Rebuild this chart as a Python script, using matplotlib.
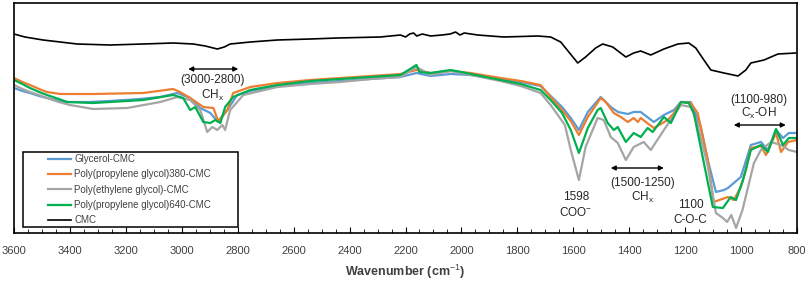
import matplotlib.pyplot as plt
from matplotlib.patches import Rectangle
from matplotlib.ticker import MultipleLocator

plt.rcParams['font.family'] = ['Liberation Sans', 'DejaVu Sans']
plt.rcParams['mathtext.fontset'] = 'custom'
plt.rcParams['mathtext.rm'] = 'Liberation Sans'
plt.rcParams['mathtext.bf'] = 'Liberation Sans:bold'

# transmittance, arbitrary units
cmc_wn = [3600, 3561, 3496, 3435, 3374, 3256, 3138, 3031, 2959, 2916, 2873, 2848, 2827, 2755, 2658,
          2540, 2443, 2290, 2218, 2200, 2185, 2171, 2160, 2140, 2110, 2070, 2040, 2021, 2005, 1990,
          1942, 1849, 1727, 1681, 1645, 1616, 1584, 1556, 1520, 1495, 1459, 1412, 1384, 1359, 1323,
          1276, 1226, 1187, 1162, 1133, 1108, 1061, 1011, 983, 965, 918, 868, 804]
cmc = [199, 196, 193, 191, 189, 188, 189, 190, 189, 187, 184, 186, 189, 191, 193,
       194, 195, 196, 198, 196, 199, 200, 197, 199, 197, 198, 199, 201, 198, 200,
       198, 196, 197, 196, 191, 181, 170, 176, 185, 189, 186, 176, 180, 182, 178,
       184, 189, 190, 185, 173, 163, 160, 157, 163, 170, 173, 179, 180]

gly_wn = [3600, 3570, 3543, 3510, 3482, 3440, 3410, 3330, 3256, 3150, 3077, 3016, 2970, 2934, 2898,
          2870, 2837, 2802, 2755, 2658, 2540, 2433, 2325, 2218, 2161, 2110, 2039, 1967, 1860, 1788,
          1717, 1681, 1640, 1609, 1580, 1548, 1502, 1466, 1440, 1405, 1384, 1359, 1312, 1276, 1240,
          1215, 1180, 1144, 1119, 1090, 1061, 1047, 1001, 965, 929, 904, 875, 850, 829, 800]
gly = [145, 142, 140, 137, 135, 132, 131, 131, 132, 134, 136, 140, 135, 125, 120,
       111, 123, 138, 142, 147, 150, 152, 154, 156, 160, 157, 159, 158, 154, 151,
       147, 137, 126, 115, 103, 121, 136, 126, 121, 119, 121, 121, 111, 118, 123,
       131, 131, 106, 73, 41, 43, 45, 56, 88, 91, 83, 103, 95, 100, 100]

ppg380_wn = [3600, 3570, 3543, 3510, 3482, 3435, 3317, 3138, 3031, 3006, 2970, 2923, 2887, 2870, 2837,
             2816, 2755, 2658, 2540, 2433, 2325, 2218, 2161, 2110, 2039, 1967, 1860, 1788, 1717, 1681,
             1640, 1609, 1580, 1548, 1502, 1484, 1455, 1430, 1405, 1384, 1369, 1359, 1312, 1262, 1240,
             1215, 1180, 1155, 1119, 1098, 1047, 1026, 1001, 983, 965, 929, 911, 875, 857, 832, 800]
ppg380 = [155, 151, 148, 144, 141, 139, 139, 140, 144, 141, 135, 126, 125, 112, 123,
          140, 146, 150, 153, 155, 157, 159, 163, 160, 162, 160, 155, 152, 148, 136,
          123, 112, 98, 116, 135, 131, 120, 116, 111, 115, 111, 115, 105, 113, 120,
          131, 130, 120, 73, 31, 36, 33, 46, 63, 85, 87, 78, 100, 81, 91, 93]

peg_wn = [3600, 3570, 3543, 3510, 3482, 3440, 3400, 3317, 3195, 3077, 3016, 2970, 2934, 2909, 2891,
          2873, 2855, 2845, 2827, 2780, 2658, 2540, 2433, 2325, 2218, 2161, 2110, 2039, 1967, 1860,
          1788, 1717, 1681, 1630, 1609, 1580, 1556, 1513, 1491, 1466, 1441, 1412, 1384, 1348, 1323,
          1276, 1215, 1180, 1160, 1120, 1090, 1065, 1050, 1035, 1018, 995, 954, 929, 893, 857, 829, 800]
peg = [148, 144, 141, 138, 135, 131, 128, 124, 125, 131, 136, 133, 123, 101, 106,
       103, 108, 103, 123, 138, 146, 149, 151, 154, 156, 166, 158, 162, 158, 152,
       147, 140, 128, 108, 83, 53, 86, 115, 113, 96, 90, 73, 86, 91, 83,
       103, 128, 126, 113, 68, 20, 15, 11, 18, 5, 23, 70, 83, 91, 88, 83, 81]

ppg640_wn = [3600, 3570, 3543, 3510, 3482, 3440, 3410, 3317, 3138, 3031, 2995, 2970, 2952, 2923, 2898,
             2880, 2862, 2845, 2816, 2755, 2658, 2540, 2433, 2325, 2218, 2161, 2150, 2110, 2039, 2000,
             1967, 1860, 1788, 1717, 1681, 1640, 1609, 1580, 1548, 1513, 1502, 1477, 1455, 1441, 1412,
             1384, 1359, 1334, 1316, 1276, 1251, 1215, 1187, 1169, 1133, 1101, 1065, 1037, 1018, 993,
             965, 929, 904, 875, 850, 829, 800]
ppg640 = [153, 149, 145, 141, 138, 134, 131, 130, 133, 138, 135, 123, 126, 111, 110,
          113, 110, 126, 136, 143, 148, 152, 154, 156, 158, 168, 161, 160, 163, 161,
          159, 153, 149, 143, 133, 120, 103, 80, 105, 123, 125, 110, 103, 106, 91,
          100, 96, 105, 101, 116, 110, 131, 130, 120, 70, 26, 25, 36, 33, 53,
          83, 88, 81, 104, 88, 95, 95]

fig = plt.figure(figsize=(8.09, 2.82), dpi=100)
ax = fig.add_axes([14/809, 49/282, 783/809, 230/282])

ax.plot(gly_wn, gly, color='#5B9BD5', lw=1.6, label='Glycerol-CMC')
ax.plot(ppg380_wn, ppg380, color='#ED7D31', lw=1.6, label='Poly(propylene glycol)380-CMC')
ax.plot(peg_wn, peg, color='#A5A5A5', lw=1.6, label='Poly(ethylene glycol)-CMC')
ax.plot(ppg640_wn, ppg640, color='#00B050', lw=1.6, label='Poly(propylene glycol)640-CMC')
ax.plot(cmc_wn, cmc, color='black', lw=1.2, label='CMC')

ax.set_xlim(3600, 800)
ax.set_ylim(0, 230)
ax.xaxis.set_major_locator(MultipleLocator(200))
ax.xaxis.set_minor_locator(MultipleLocator(50))
ax.tick_params(axis='x', which='both', direction='in', colors='black', labelcolor='#404040',
               labelsize=8, pad=9)
ax.tick_params(axis='x', which='major', length=4)
ax.tick_params(axis='x', which='minor', length=3)
ax.set_yticks([])
for s in ax.spines.values():
    s.set_linewidth(1.2)
ax.set_xlabel('Wavenumber (cm$^{-1}$)', fontsize=9, color='#404040', fontweight='bold', labelpad=5)

# annotations
arrow = dict(arrowstyle='<|-|>', color='black', lw=1, mutation_scale=7, shrinkA=0, shrinkB=0)
tkw = dict(ha='center', va='center', fontsize=8.5, color='#262626')
ax.annotate('', xy=(2977, 164), xytext=(2798, 164), arrowprops=arrow)
ax.text(2890, 153, '(3000-2800)', **tkw)
ax.text(2890, 138, 'CH$_\\mathregular{x}$', **tkw)
ax.text(1591, 36, '1598', **tkw)
ax.text(1591, 21, 'COO$^\\mathregular{-}$', **tkw)
ax.annotate('', xy=(1466, 65), xytext=(1276, 65), arrowprops=arrow)
ax.text(1352, 50, '(1500-1250)', **tkw)
ax.text(1352, 36, 'CH$_\\mathregular{x}$', **tkw)
ax.text(1180, 28, '1100', **tkw)
ax.text(1180, 13, 'C-O-C', **tkw)
ax.text(935, 133, '(1100-980)', **tkw)
ax.text(935, 120, 'C$_\\mathregular{x}$-OH', **tkw)
ax.annotate('', xy=(1026, 108), xytext=(840, 108), arrowprops=arrow)

# legend box drawn separately
ax.add_patch(Rectangle((9/783, 6/230), 215/783, 75/230, transform=ax.transAxes,
                       fill=False, edgecolor='black', lw=1.1, zorder=5))
leg = ax.legend(loc='upper left', bbox_to_anchor=(34/783, 79/230), frameon=False,
                borderpad=0, borderaxespad=0, handlelength=2.4, handletextpad=0.3,
                labelspacing=0.55, fontsize=7, labelcolor='#404040')

fig.savefig('out.png', dpi=100)
